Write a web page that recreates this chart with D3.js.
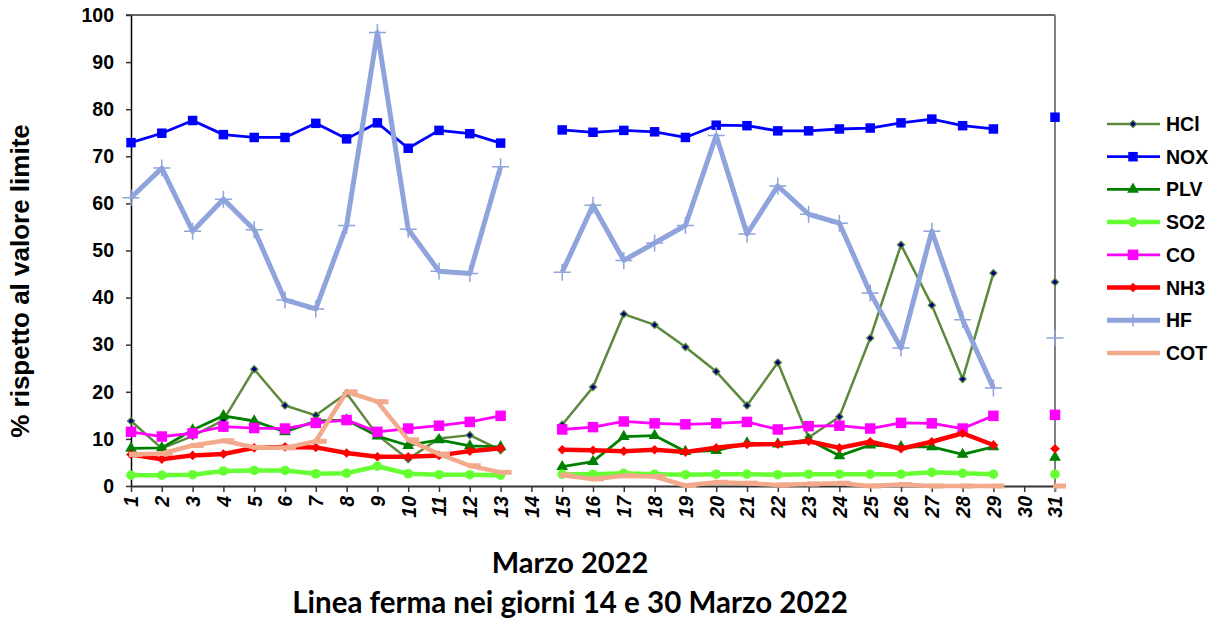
<!DOCTYPE html>
<html>
<head>
<meta charset="utf-8">
<script src="https://cdn.jsdelivr.net/npm/d3@7"></script>
<style>
  body { margin: 0; background: #fff; }
  svg { display: block; }
  text { font-family: "Liberation Sans", Arial, sans-serif; font-weight: bold; fill: #000; }
</style>
</head>
<body>
<div id="chart"></div>
<script>
// giorni di marzo (14 e 30 linea ferma -> null)
const days = [1,2,3,4,5,6,7,8,9,10,11,12,13,14,15,16,17,18,19,20,21,22,23,24,25,26,27,28,29,30,31];
const yTicks = [0,10,20,30,40,50,60,70,80,90,100];

const hcl = [13.8, 8.0, 10.6, 14.0, 24.8, 17.1, 15.0, 19.7, 10.8, 5.7, 10.1, 10.8, 7.6, null,
             13.0, 21.0, 36.5, 34.2, 29.5, 24.3, 17.1, 26.2, 10.3, 14.7, 31.4, 51.2, 38.4, 22.7, 45.2, null, 43.3];
const nox = [72.9, 74.9, 77.6, 74.6, 74.0, 74.0, 77.0, 73.7, 77.1, 71.7, 75.5, 74.8, 72.8, null,
             75.6, 75.1, 75.5, 75.2, 74.0, 76.6, 76.5, 75.4, 75.4, 75.8, 76.0, 77.1, 77.9, 76.5, 75.8, null, 78.3];
const plv = [8.0, 8.1, 11.9, 14.9, 13.8, 11.5, 13.8, 14.0, 10.6, 8.6, 9.8, 8.5, 8.3, null,
             4.1, 5.2, 10.5, 10.7, 7.3, 7.5, 9.1, 8.9, 9.8, 6.4, 8.7, 8.3, 8.3, 6.7, 8.3, null, 6.1];
const so2 = [2.3, 2.3, 2.4, 3.2, 3.3, 3.3, 2.6, 2.7, 4.2, 2.6, 2.4, 2.4, 2.3, null,
             2.5, 2.5, 2.7, 2.5, 2.4, 2.5, 2.5, 2.4, 2.5, 2.5, 2.5, 2.5, 2.9, 2.7, 2.5, null, 2.5];
const co  = [11.5, 10.5, 11.2, 12.6, 12.3, 12.2, 13.4, 14.0, 11.5, 12.2, 12.8, 13.6, 14.9, null,
             12.0, 12.5, 13.7, 13.3, 13.1, 13.3, 13.6, 12.0, 12.7, 12.8, 12.2, 13.4, 13.3, 12.2, 14.9, null, 15.1];
const nh3 = [6.7, 5.7, 6.5, 6.8, 8.1, 8.3, 8.2, 7.0, 6.2, 6.2, 6.5, 7.4, 8.0, null,
             7.7, 7.6, 7.4, 7.7, 7.2, 8.1, 8.8, 8.9, 9.5, 8.1, 9.4, 7.9, 9.4, 11.2, 8.7, null, 7.9];
const hf  = [61.2, 67.5, 54.1, 60.9, 54.4, 39.5, 37.6, 55.3, 96.3, 54.5, 45.6, 45.1, 67.8, null,
             45.4, 59.6, 47.9, 51.6, 55.3, 74.4, 53.5, 63.7, 57.7, 55.8, 41.0, 29.3, 54.1, 35.3, 20.8, null, 31.4];
const cot = [6.7, 6.9, 8.6, 9.6, 8.2, 8.1, 9.5, 20.0, 17.9, 9.8, 6.8, 4.3, 2.9, null,
             2.3, 1.5, 2.2, 2.0, 0.1, 0.8, 0.6, 0.2, 0.4, 0.6, 0.0, 0.3, 0.0, 0.0, 0.0, null, 0.0];

const width = 1221, height = 620;
const margin = { top: 15, left: 131, right: 166, bottom: 134 };

const svg = d3.select("#chart").append("svg")
  .attr("width", width)
  .attr("height", height);

const x = d3.scalePoint().domain(days).range([margin.left, width - margin.right]);
const y = d3.scaleLinear().domain([0, 100]).range([height - margin.bottom, margin.top]);

// marker shapes
const diamond = r => `M0,${-r}L${r},0L0,${r}L${-r},0Z`;
const square = s => `M${-s/2},${-s/2}h${s}v${s}h${-s}Z`;
const plus = s => `M${-s/2},0H${s/2}M0,${-s/2}V${s/2}`;
const dash = w => `M-2,0H${w}`;

const series = [
  { name: "HCl", values: hcl, color: "#5c8a3c", lw: 2.5, marker: diamond(3.6), mFill: "#000080", mStroke: "#5c8a3c", mw: 1.2 },
  { name: "NOX", values: nox, color: "#0000ff", lw: 2.8, marker: square(9.5), mFill: "#0000ff", mStroke: "none", mw: 0 },
  { name: "PLV", values: plv, color: "#008000", lw: 2.8, marker: d3.symbol(d3.symbolTriangle, 60)(), mFill: "#008000", mStroke: "none", mw: 0 },
  { name: "SO2", values: so2, color: "#66ff33", lw: 4.5, marker: d3.symbol(d3.symbolCircle, 72)(), mFill: "#66ff33", mStroke: "none", mw: 0 },
  { name: "CO",  values: co,  color: "#ff00ff", lw: 2.8, marker: square(10.5), mFill: "#ff00ff", mStroke: "none", mw: 0 },
  { name: "NH3", values: nh3, color: "#ff0000", lw: 4.5, marker: diamond(4.8), mFill: "#ff0000", mStroke: "none", mw: 0 },
  { name: "HF",  values: hf,  color: "#8fa3dc", lw: 5, marker: plus(17), mFill: "none", mStroke: "#8fa3dc", mw: 1.5 },
  { name: "COT", values: cot, color: "#f2a98c", lw: 4.5, marker: dash(11), mFill: "none", mStroke: "#f2a98c", mw: 5 }
];

// axes
const yAxis = svg.append("g")
  .attr("transform", `translate(${margin.left},0)`)
  .call(d3.axisLeft(y).tickValues(yTicks).tickSize(5).tickPadding(12).tickSizeOuter(0));
yAxis.select(".domain").attr("stroke", "#000").attr("stroke-width", 1.5);
yAxis.selectAll(".tick line").attr("stroke", "#333").attr("stroke-width", 1.5);
yAxis.selectAll(".tick text").style("font-size", "19.5px").style("font-family", "Liberation Sans, Arial, sans-serif").style("font-weight", "bold");

const xAxis = svg.append("g")
  .attr("transform", `translate(0,${y(0)})`)
  .call(d3.axisBottom(x).tickSize(6).tickSizeOuter(0).tickFormat(d => d));
xAxis.select(".domain").attr("stroke", "#333").attr("stroke-width", 2);
xAxis.selectAll(".tick line").attr("stroke", "#333").attr("stroke-width", 1.5);
xAxis.selectAll(".tick text")
  .attr("transform", "translate(0,10) rotate(-90)")
  .attr("x", 0).attr("y", 0).attr("dy", "0.35em")
  .attr("text-anchor", "end")
  .style("font-size", "19.5px").style("font-style", "italic")
  .style("font-family", "Liberation Sans, Arial, sans-serif").style("font-weight", "bold");

// plot border top and right
svg.append("line")
  .attr("x1", margin.left - 5).attr("x2", x(31))
  .attr("y1", y(100)).attr("y2", y(100))
  .attr("stroke", "#333").attr("stroke-width", 1.5);
svg.append("line")
  .attr("x1", x(31)).attr("x2", x(31))
  .attr("y1", y(100)).attr("y2", y(0) + 6)
  .attr("stroke", "#808080").attr("stroke-width", 2);

// series
const line = d3.line()
  .defined(d => d.v !== null)
  .x(d => x(d.day))
  .y(d => y(d.v));

series.forEach(s => {
  const pts = days.map((day, i) => ({ day: day, v: s.values[i] }));
  const g = svg.append("g");
  g.append("path")
    .datum(pts)
    .attr("d", line)
    .attr("fill", "none")
    .attr("stroke", s.color)
    .attr("stroke-width", s.lw)
    .attr("stroke-linejoin", "round");
  g.selectAll("path.mk")
    .data(pts.filter(d => d.v !== null))
    .enter().append("path")
    .attr("class", "mk")
    .attr("transform", d => `translate(${x(d.day)},${y(d.v)})`)
    .attr("d", s.marker)
    .attr("fill", s.mFill)
    .attr("stroke", s.mStroke)
    .attr("stroke-width", s.mw);
});

// legend
const legend = svg.append("g");
series.forEach((s, i) => {
  const ly = 124 + i * 32.7;
  legend.append("line")
    .attr("x1", 1107).attr("x2", 1160)
    .attr("y1", ly).attr("y2", ly)
    .attr("stroke", s.color).attr("stroke-width", s.lw);
  if (s.name !== "COT") {
    legend.append("path")
      .attr("transform", `translate(1133,${ly})`)
      .attr("d", s.name === "HF" ? plus(12) : s.marker)
      .attr("fill", s.mFill)
      .attr("stroke", s.mStroke)
      .attr("stroke-width", s.mw);
  }
  legend.append("text")
    .attr("x", 1166).attr("y", ly)
    .attr("dy", "0.36em")
    .style("font-size", "19.5px")
    .text(s.name);
});

// titles
svg.append("text")
  .attr("transform", "translate(29,281) rotate(-90)")
  .attr("text-anchor", "middle")
  .style("font-size", "26px")
  .text("% rispetto al valore limite");

svg.append("text")
  .attr("x", 570).attr("y", 573)
  .attr("text-anchor", "middle")
  .style("font-family", "Lato, 'Open Sans', sans-serif")
  .style("font-size", "29px")
  .text("Marzo 2022");

svg.append("text")
  .attr("x", 570).attr("y", 613)
  .attr("text-anchor", "middle")
  .style("font-family", "Lato, 'Open Sans', sans-serif")
  .style("font-size", "29.5px")
  .text("Linea ferma nei giorni 14 e 30 Marzo 2022");
</script>
</body>
</html>
